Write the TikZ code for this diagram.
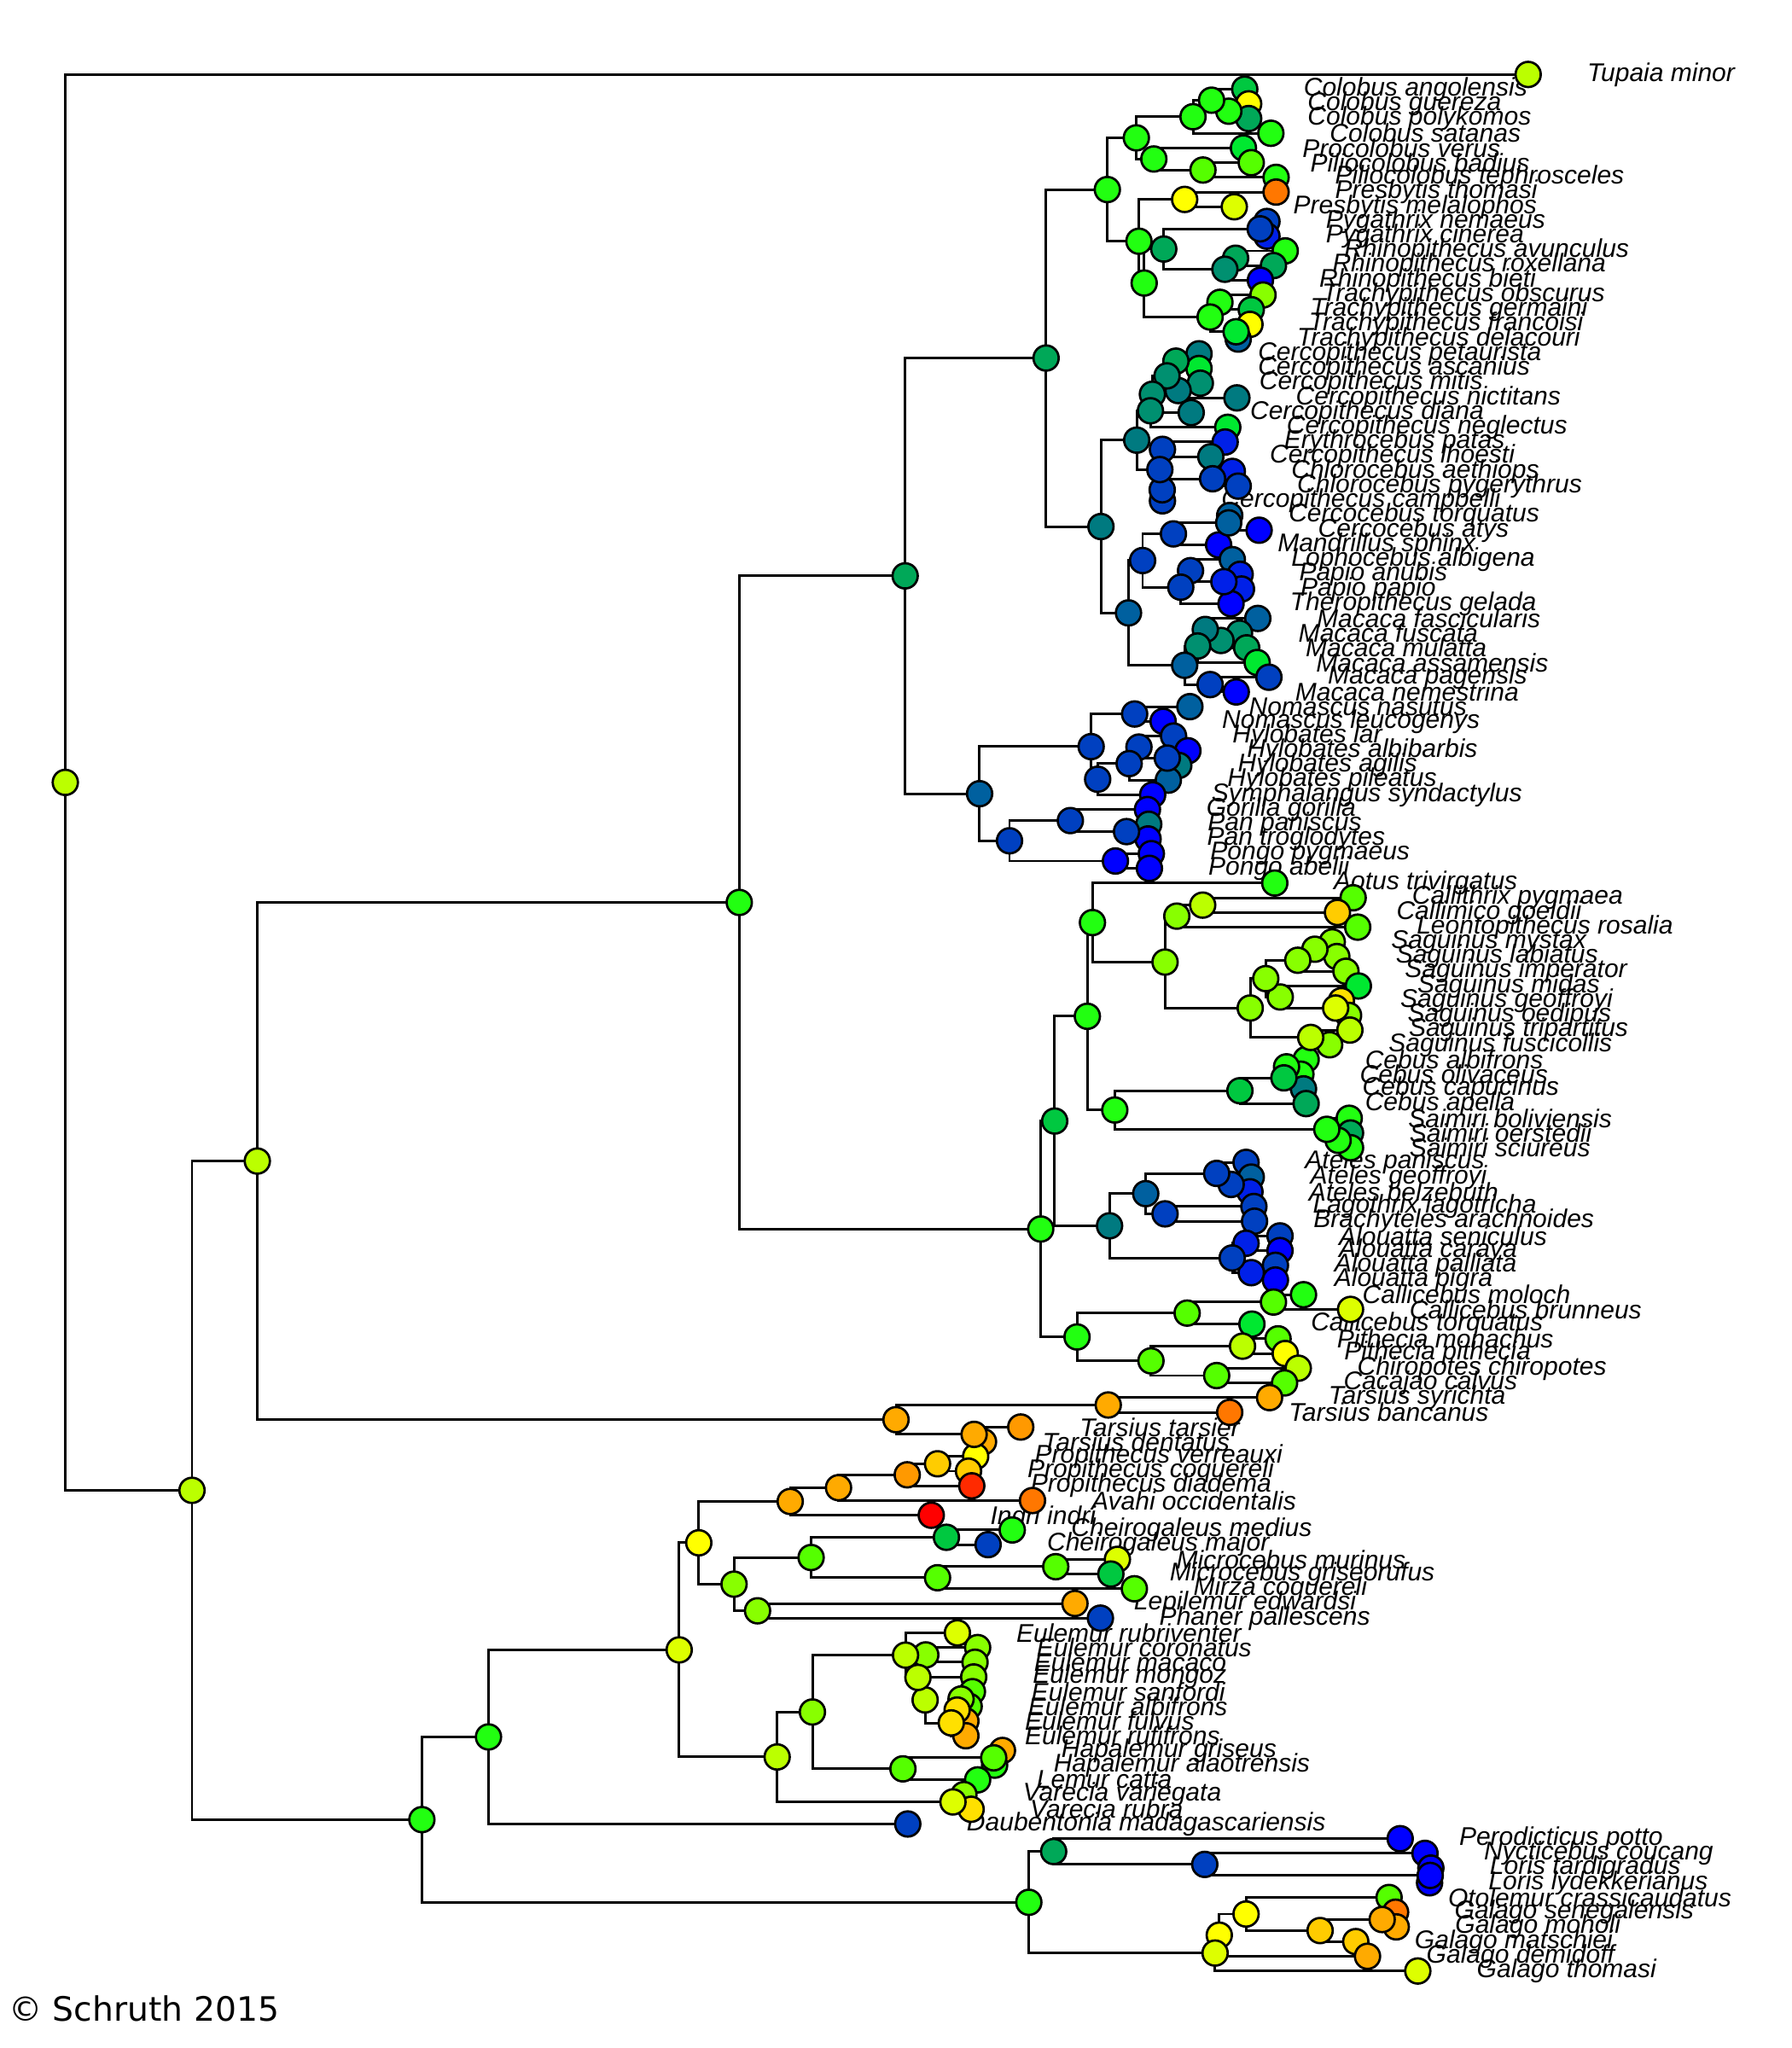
\documentclass[tikz,border=0pt]{standalone}
\usepackage{fontspec}
\setmainfont{Liberation Sans}
\newfontfamily\dejavu{DejaVu Sans}
\usetikzlibrary{calc}
\pgfdeclarelayer{edges}
\pgfdeclarelayer{labels}
\pgfdeclarelayer{tips}
\pgfsetlayers{edges,labels,tips,main}
\definecolor{cR}{HTML}{FF0000}
\definecolor{cRO}{HTML}{FF2A00}
\definecolor{cO}{HTML}{FF7700}
\definecolor{cOA}{HTML}{FF9900}
\definecolor{cA}{HTML}{FFAA00}
\definecolor{cGo}{HTML}{FFCC00}
\definecolor{cGY}{HTML}{FFE000}
\definecolor{cY}{HTML}{FFFF00}
\definecolor{cYG}{HTML}{DDFF00}
\definecolor{cLY}{HTML}{BBFF00}
\definecolor{cL}{HTML}{88FF00}
\definecolor{cLG}{HTML}{55FF00}
\definecolor{cG}{HTML}{22FF11}
\definecolor{cG2}{HTML}{00E830}
\definecolor{cEG}{HTML}{00C840}
\definecolor{cE}{HTML}{00A858}
\definecolor{cTG}{HTML}{009070}
\definecolor{cT}{HTML}{007A80}
\definecolor{cTB}{HTML}{00609F}
\definecolor{cDB}{HTML}{0040C0}
\definecolor{cB2}{HTML}{0020E8}
\definecolor{cB}{HTML}{0000FF}
\tikzset{
  edge/.style={line width=0.55pt, black},
  dot/.style={circle, draw=black, line width=0.5pt, inner sep=0pt, minimum size=1.93mm},
  lab/.style={anchor=west, inner sep=0pt, font=\fontsize{5.58}{6}\selectfont\itshape},
}
\newcommand\mytip[5]{%
  \coordinate (#1) at (#3,{57+(#2-1)*11.256});
  \begin{pgfonlayer}{labels}\node[lab] (#1-l) at ({#3+44.5},{57+(#2-1)*11.256}) {#5};\end{pgfonlayer}
  \begin{pgfonlayer}{tips}\node[dot,fill=#4] (#1-d) at (#1) {};\end{pgfonlayer}}
\newcommand\mynode[5]{%
  \coordinate (tmpm) at ($(#3)!0.5!(#4)$);
  \coordinate (tmpx) at (#2,0);
  \coordinate (#1) at (tmpx |- tmpm);
  \begin{pgfonlayer}{edges}\draw[edge] (#3) -| (#1) |- (#4);\end{pgfonlayer}
  \node[dot,fill=#5] (#1-d) at (#1) {};}
\begin{document}
\begin{tikzpicture}[x=0.1mm,y=-0.1mm]
\useasboundingbox (0,0) rectangle (1372,1568);
\mytip{t1}{1}{1170}{cLY}{Tupaia minor}
\mytip{t2}{2}{953}{cEG}{Colobus angolensis}
\mytip{t3}{3}{956}{cY}{Colobus guereza}
\mytip{t4}{4}{956}{cE}{Colobus polykomos}
\mytip{t5}{5}{973}{cG}{Colobus satanas}
\mytip{t6}{6}{952}{cG2}{Procolobus verus}
\mytip{t7}{7}{958}{cLG}{Piliocolobus badius}
\mytip{t8}{8}{977}{cG}{Piliocolobus tephrosceles}
\mytip{t9}{9}{977}{cO}{Presbytis thomasi}
\mytip{t10}{10}{945}{cYG}{Presbytis melalophos}
\mytip{t11}{11}{970}{cDB}{Pygathrix nemaeus}
\mytip{t12}{12}{970}{cB2}{Pygathrix cinerea}
\mytip{t13}{13}{984}{cG}{Rhinopithecus avunculus}
\mytip{t14}{14}{975}{cE}{Rhinopithecus roxellana}
\mytip{t15}{15}{965}{cB}{Rhinopithecus bieti}
\mytip{t16}{16}{967}{cL}{Trachypithecus obscurus}
\mytip{t17}{17}{958}{cEG}{Trachypithecus germaini}
\mytip{t18}{18}{957}{cY}{Trachypithecus francoisi}
\mytip{t19}{19}{948}{cTB}{Trachypithecus delacouri}
\mytip{t20}{20}{918}{cT}{Cercopithecus petaurista}
\mytip{t21}{21}{918}{cG2}{Cercopithecus ascanius}
\mytip{t22}{22}{919}{cTG}{Cercopithecus mitis}
\mytip{t23}{23}{947}{cT}{Cercopithecus nictitans}
\mytip{t24}{24}{912}{cT}{Cercopithecus diana}
\mytip{t25}{25}{940}{cG2}{Cercopithecus neglectus}
\mytip{t26}{26}{938}{cB2}{Erythrocebus patas}
\mytip{t27}{27}{927}{cT}{Cercopithecus lhoesti}
\mytip{t28}{28}{943.5}{cB2}{Chlorocebus aethiops}
\mytip{t29}{29}{948}{cDB}{Chlorocebus pygerythrus}
\mytip{t30}{30}{890}{cDB}{Cercopithecus campbelli}
\mytip{t31}{31}{941.5}{cTB}{Cercocebus torquatus}
\mytip{t32}{32}{964}{cB}{Cercocebus atys}
\mytip{t33}{33}{933}{cB}{Mandrillus sphinx}
\mytip{t34}{34}{943.5}{cTB}{Lophocebus albigena}
\mytip{t35}{35}{949.5}{cB2}{Papio anubis}
\mytip{t36}{36}{950.5}{cB2}{Papio papio}
\mytip{t37}{37}{942.5}{cB}{Theropithecus gelada}
\mytip{t38}{38}{963}{cTB}{Macaca fascicularis}
\mytip{t39}{39}{949}{cTG}{Macaca fuscata}
\mytip{t40}{40}{954.5}{cE}{Macaca mulatta}
\mytip{t41}{41}{962.5}{cG2}{Macaca assamensis}
\mytip{t42}{42}{971.5}{cDB}{Macaca pagensis}
\mytip{t43}{43}{946.5}{cB}{Macaca nemestrina}
\mytip{t44}{44}{911}{cTB}{Nomascus nasutus}
\mytip{t45}{45}{890.5}{cB}{Nomascus leucogenys}
\mytip{t46}{46}{898.5}{cDB}{Hylobates lar}
\mytip{t47}{47}{909.5}{cB}{Hylobates albibarbis}
\mytip{t48}{48}{902.5}{cT}{Hylobates agilis}
\mytip{t49}{49}{894.5}{cTB}{Hylobates pileatus}
\mytip{t50}{50}{882.5}{cB}{Symphalangus syndactylus}
\mytip{t51}{51}{878.5}{cB}{Gorilla gorilla}
\mytip{t52}{52}{879.5}{cT}{Pan paniscus}
\mytip{t53}{53}{879}{cB}{Pan troglodytes}
\mytip{t54}{54}{881.5}{cB}{Pongo pygmaeus}
\mytip{t55}{55}{880}{cB}{Pongo abelii}
\mytip{t56}{56}{976}{cG}{Aotus trivirgatus}
\mytip{t57}{57}{1036}{cLG}{Callithrix pygmaea}
\mytip{t58}{58}{1024}{cGo}{Callimico goeldii}
\mytip{t59}{59}{1039.5}{cLG}{Leontopithecus rosalia}
\mytip{t60}{60}{1020}{cL}{Saguinus mystax}
\mytip{t61}{61}{1023.5}{cL}{Saguinus labiatus}
\mytip{t62}{62}{1030.5}{cL}{Saguinus imperator}
\mytip{t63}{63}{1040}{cG2}{Saguinus midas}
\mytip{t64}{64}{1027}{cGY}{Saguinus geoffroyi}
\mytip{t65}{65}{1032.5}{cL}{Saguinus oedipus}
\mytip{t66}{66}{1033.5}{cLY}{Saguinus tripartitus}
\mytip{t67}{67}{1018}{cL}{Saguinus fuscicollis}
\mytip{t68}{68}{1000}{cG}{Cebus albifrons}
\mytip{t69}{69}{996}{cG}{Cebus olivaceus}
\mytip{t70}{70}{998}{cT}{Cebus capucinus}
\mytip{t71}{71}{1000}{cE}{Cebus apella}
\mytip{t72}{72}{1033}{cG}{Saimiri boliviensis}
\mytip{t73}{73}{1034}{cE}{Saimiri oerstedii}
\mytip{t74}{74}{1034}{cG}{Saimiri sciureus}
\mytip{t75}{75}{954}{cDB}{Ateles paniscus}
\mytip{t76}{76}{958}{cTB}{Ateles geoffroyi}
\mytip{t77}{77}{957}{cB2}{Ateles belzebuth}
\mytip{t78}{78}{960}{cDB}{Lagothrix lagotricha}
\mytip{t79}{79}{960.5}{cDB}{Brachyteles arachnoides}
\mytip{t80}{80}{980}{cDB}{Alouatta seniculus}
\mytip{t81}{81}{980}{cB}{Alouatta caraya}
\mytip{t82}{82}{976.5}{cDB}{Alouatta palliata}
\mytip{t83}{83}{976.5}{cB}{Alouatta pigra}
\mytip{t84}{84}{998}{cG}{Callicebus moloch}
\mytip{t85}{85}{1034}{cYG}{Callicebus brunneus}
\mytip{t86}{86}{958.5}{cG2}{Callicebus torquatus}
\mytip{t87}{87}{978.5}{cLG}{Pithecia monachus}
\mytip{t88}{88}{984}{cY}{Pithecia pithecia}
\mytip{t89}{89}{994}{cLY}{Chiropotes chiropotes}
\mytip{t90}{90}{983.5}{cLG}{Cacajao calvus}
\mytip{t91}{91}{972}{cA}{Tarsius syrichta}
\mytip{t92}{92}{941.5}{cO}{Tarsius bancanus}
\mytip{t93}{93}{781.5}{cOA}{Tarsius tarsier}
\mytip{t94}{94}{753}{cA}{Tarsius dentatus}
\mytip{t95}{95}{747}{cY}{Propithecus verreauxi}
\mytip{t96}{96}{741.5}{cGo}{Propithecus coquereli}
\mytip{t97}{97}{744}{cRO}{Propithecus diadema}
\mytip{t98}{98}{790.5}{cO}{Avahi occidentalis}
\mytip{t99}{99}{713}{cR}{Indri indri}
\mytip{t100}{100}{775}{cG}{Cheirogaleus medius}
\mytip{t101}{101}{756.5}{cDB}{Cheirogaleus major}
\mytip{t102}{102}{855.5}{cYG}{Microcebus murinus}
\mytip{t103}{103}{850.5}{cEG}{Microcebus griseorufus}
\mytip{t104}{104}{868.5}{cLG}{Mirza coquereli}
\mytip{t105}{105}{823}{cA}{Lepilemur edwardsi}
\mytip{t106}{106}{842.5}{cDB}{Phaner pallescens}
\mytip{t107}{107}{733}{cYG}{Eulemur rubriventer}
\mytip{t108}{108}{748.5}{cL}{Eulemur coronatus}
\mytip{t109}{109}{746.5}{cL}{Eulemur macaco}
\mytip{t110}{110}{745.5}{cL}{Eulemur mongoz}
\mytip{t111}{111}{744.5}{cLG}{Eulemur sanfordi}
\mytip{t112}{112}{742}{cLG}{Eulemur albifrons}
\mytip{t113}{113}{739.5}{cA}{Eulemur fulvus}
\mytip{t114}{114}{739.5}{cA}{Eulemur rufifrons}
\mytip{t115}{115}{767.5}{cA}{Hapalemur griseus}
\mytip{t116}{116}{761.5}{cG}{Hapalemur alaotrensis}
\mytip{t117}{117}{748.5}{cG}{Lemur catta}
\mytip{t118}{118}{738}{cL}{Varecia variegata}
\mytip{t119}{119}{743.5}{cGY}{Varecia rubra}
\mytip{t120}{120}{695}{cDB}{Daubentonia madagascariensis}
\mytip{t121}{121}{1072}{cB}{Perodicticus potto}
\mytip{t122}{122}{1091}{cB}{Nycticebus coucang}
\mytip{t123}{123}{1095.5}{cB}{Loris tardigradus}
\mytip{t124}{124}{1094.5}{cB}{Loris lydekkerianus}
\mytip{t125}{125}{1063.5}{cLG}{Otolemur crassicaudatus}
\mytip{t126}{126}{1068.5}{cO}{Galago senegalensis}
\mytip{t127}{127}{1069}{cA}{Galago moholi}
\mytip{t128}{128}{1038}{cGo}{Galago matschiei}
\mytip{t129}{129}{1047}{cA}{Galago demidoff}
\mytip{t130}{130}{1085.5}{cYG}{Galago thomasi}
% Colobinae
\mynode{colAG}{940.8}{t3}{t4}{cG}
\mynode{colA}{927.6}{t2}{colAG}{cG}
\mynode{colob}{913.4}{colA}{t5}{cG}
\mynode{pilio}{921}{t7}{t8}{cLG}
\mynode{procol}{883.4}{t6}{pilio}{cG}
\mynode{cOne}{870}{colob}{procol}{cG}
\mynode{presb}{907}{t9}{t10}{cY}
\mynode{pyga}{964.8}{t11}{t12}{cDB}
\mynode{rhinoAR}{946}{t13}{t14}{cE}
\mynode{rhino}{937.8}{rhinoAR}{t15}{cTG}
\mynode{pygrhi}{891}{pyga}{rhino}{cE}
\mynode{trA}{934}{t16}{t17}{cG}
\mynode{trB}{946.4}{t18}{t19}{cG2}
\mynode{trach}{926.5}{trA}{trB}{cG}
\mynode{asian}{876}{pygrhi}{trach}{cG}
\mynode{cTwo}{872}{presb}{asian}{cG}
\mynode{colobinae}{847.8}{cOne}{cTwo}{cG}
% Cercopithecini
\mynode{cAa}{900.3}{t20}{t21}{cE}
\mynode{cMN}{902}{t22}{t23}{cT}
\mynode{cAb}{893.5}{cAa}{cMN}{cTG}
\mynode{cAc}{882.3}{cAb}{t24}{cTG}
\mynode{cAd}{880.8}{cAc}{t25}{cTG}
\mynode{cPL}{890}{t26}{t27}{cDB}
\mynode{cAP}{928.4}{t28}{t29}{cDB}
\mynode{cAPC}{889.8}{cAP}{t30}{cDB}
\mynode{cBa}{888}{cPL}{cAPC}{cDB}
\mynode{cercopini}{870.3}{cAd}{cBa}{cT}
% Papionini
\mynode{cerco}{940.7}{t31}{t32}{cTB}
\mynode{cercM}{898.4}{cerco}{t33}{cDB}
\mynode{papio}{937}{t35}{t36}{cB2}
\mynode{lophP}{911.5}{t34}{papio}{cDB}
\mynode{lophPT}{904}{lophP}{t37}{cDB}
\mynode{papa}{874.8}{cercM}{lophPT}{cDB}
\mynode{mFM}{934.8}{t39}{t40}{cTG}
\mynode{mF}{922.8}{t38}{mFM}{cT}
\mynode{mFA}{917}{mF}{t41}{cTG}
\mynode{mPN}{926.5}{t42}{t43}{cDB}
\mynode{macaca}{907}{mFA}{mPN}{cTB}
\mynode{papionini}{864}{papa}{macaca}{cTB}
\mynode{cercopithecinae}{842.9}{cercopini}{papionini}{cT}
\mynode{cercopithecidae}{800.9}{colobinae}{cercopithecinae}{cE}
% Hominoidea
\mynode{nomascus}{868.7}{t44}{t45}{cDB}
\mynode{hAA}{893.7}{t47}{t48}{cDB}
\mynode{hLAA}{872}{t46}{hAA}{cDB}
\mynode{hyl}{864.5}{hLAA}{t49}{cDB}
\mynode{hylS}{840.4}{hyl}{t50}{cDB}
\mynode{hylobatidae}{835.4}{nomascus}{hylS}{cDB}
\mynode{pan}{862.5}{t52}{t53}{cDB}
\mynode{homgp}{819.5}{t51}{pan}{cDB}
\mynode{pongo}{854}{t54}{t55}{cB}
\mynode{hominidae}{772.9}{homgp}{pongo}{cDB}
\mynode{hominoidea}{750}{hylobatidae}{hominidae}{cTB}
\mynode{catarrhini}{693}{cercopithecidae}{hominoidea}{cE}
% Platyrrhini
\mynode{cc}{920.8}{t57}{t58}{cLY}
\mynode{ccl}{901}{cc}{t59}{cL}
\mynode{sML}{1006.7}{t60}{t61}{cL}
\mynode{sMLI}{993.6}{sML}{t62}{cL}
\mynode{sGO}{1022.6}{t64}{t65}{cYG}
\mynode{sMGO}{980.2}{t63}{sGO}{cL}
\mynode{sA}{969.1}{sMLI}{sMGO}{cL}
\mynode{sTF}{1003.5}{t66}{t67}{cLY}
\mynode{saguinus}{957.2}{sA}{sTF}{cL}
\mynode{callitrichidae}{892}{ccl}{saguinus}{cL}
\mynode{aotcal}{836.4}{t56}{callitrichidae}{cG}
\mynode{cAO}{985}{t68}{t69}{cG}
\mynode{cAOC}{983}{cAO}{t70}{cEG}
\mynode{cebus}{949.3}{cAOC}{t71}{cEG}
\mynode{sOS}{1024.5}{t73}{t74}{cG}
\mynode{saimiri}{1015.8}{t72}{sOS}{cG}
\mynode{cebidae}{853.5}{cebus}{saimiri}{cG}
\mynode{cebAot}{832.5}{aotcal}{cebidae}{cG}
\mynode{atGB}{942.6}{t76}{t77}{cDB}
\mynode{ateles}{931.5}{t75}{atGB}{cDB}
\mynode{lagbra}{892}{t78}{t79}{cDB}
\mynode{atLB}{877.2}{ateles}{lagbra}{cTB}
\mynode{aSC}{954}{t80}{t81}{cB2}
\mynode{aPP}{958}{t82}{t83}{cB2}
\mynode{alouatta}{943.4}{aSC}{aPP}{cDB}
\mynode{atelidae}{849.5}{atLB}{alouatta}{cT}
\mynode{platA}{807.5}{cebAot}{atelidae}{cEG}
\mynode{cMB}{975}{t84}{t85}{cLG}
\mynode{callicebus}{908.9}{cMB}{t86}{cLG}
\mynode{pith}{951.3}{t87}{t88}{cLY}
\mynode{chca}{931.5}{t89}{t90}{cLG}
\mynode{pitheciinae}{881.2}{pith}{chca}{cLG}
\mynode{pitheciidae}{824.6}{callicebus}{pitheciinae}{cG}
\mynode{platyrrhini}{796.8}{platA}{pitheciidae}{cG}
\mynode{anthropoidea}{566}{catarrhini}{platyrrhini}{cG}
% Tarsius
\mynode{tSB}{848.5}{t91}{t92}{cA}
\mynode{tTD}{745.8}{t93}{t94}{cA}
\mynode{tarsius}{686}{tSB}{tTD}{cA}
\mynode{haplorhini}{197}{anthropoidea}{tarsius}{cLY}
% Lemuriformes
\mynode{pVC}{717.8}{t95}{t96}{cGo}
\mynode{prop}{694.6}{pVC}{t97}{cOA}
\mynode{propAv}{642}{prop}{t98}{cA}
\mynode{indriidae}{605}{propAv}{t99}{cA}
\mynode{cheiro}{724.6}{t100}{t101}{cEG}
\mynode{micro}{808.3}{t102}{t103}{cLG}
\mynode{microM}{717.8}{micro}{t104}{cLG}
\mynode{cheirogaleidae}{621}{cheiro}{microM}{cLG}
\mynode{lepPh}{580}{t105}{t106}{cL}
\mynode{chLep}{562}{cheirogaleidae}{lepPh}{cL}
\mynode{iChL}{535}{indriidae}{chLep}{cY}
\mynode{eCM}{708.8}{t108}{t109}{cL}
\mynode{eSA}{735.8}{t111}{t112}{cL}
\mynode{eSAF}{732.8}{eSA}{t113}{cGY}
\mynode{eSAFR}{728.3}{eSAF}{t114}{cGY}
\mynode{eMS}{708.3}{t110}{eSAFR}{cLY}
\mynode{eX}{702.8}{eCM}{eMS}{cLY}
\mynode{eulemur}{693.3}{t107}{eX}{cLY}
\mynode{hapalemur}{760.8}{t115}{t116}{cLG}
\mynode{hapLem}{691.3}{hapalemur}{t117}{cLG}
\mynode{eulHL}{622}{eulemur}{hapLem}{cL}
\mynode{varecia}{729.6}{t118}{t119}{cYG}
\mynode{lemuridae}{595}{eulHL}{varecia}{cLY}
\mynode{lemB}{520}{iChL}{lemuridae}{cYG}
\mynode{lemuriformes}{374}{lemB}{t120}{cG}
% Lorisiformes
\mynode{nyLor}{1095}{t123}{t124}{cB}
\mynode{nyc}{922.4}{t122}{nyLor}{cDB}
\mynode{lorisidae}{806.7}{t121}{nyc}{cE}
\mynode{gSM}{1058.2}{t126}{t127}{cA}
\mynode{gSMM}{1010.7}{gSM}{t128}{cGo}
\mynode{gOSMM}{954}{t125}{gSMM}{cY}
\mynode{gD}{933.5}{gOSMM}{t129}{cY}
\mynode{galagidae}{930.3}{gD}{t130}{cYG}
\mynode{lorisiformes}{787.7}{lorisidae}{galagidae}{cG}
\mynode{strepsirrhini}{323}{lemuriformes}{lorisiformes}{cG}
\mynode{primates}{147}{haplorhini}{strepsirrhini}{cLY}
\mynode{root}{50}{t1}{primates}{cLY}
\node[anchor=west, inner sep=0pt, font=\dejavu\fontsize{7.3}{8}\selectfont] (copy) at (6,1538) {© Schruth 2015};
\end{tikzpicture}
\end{document}
